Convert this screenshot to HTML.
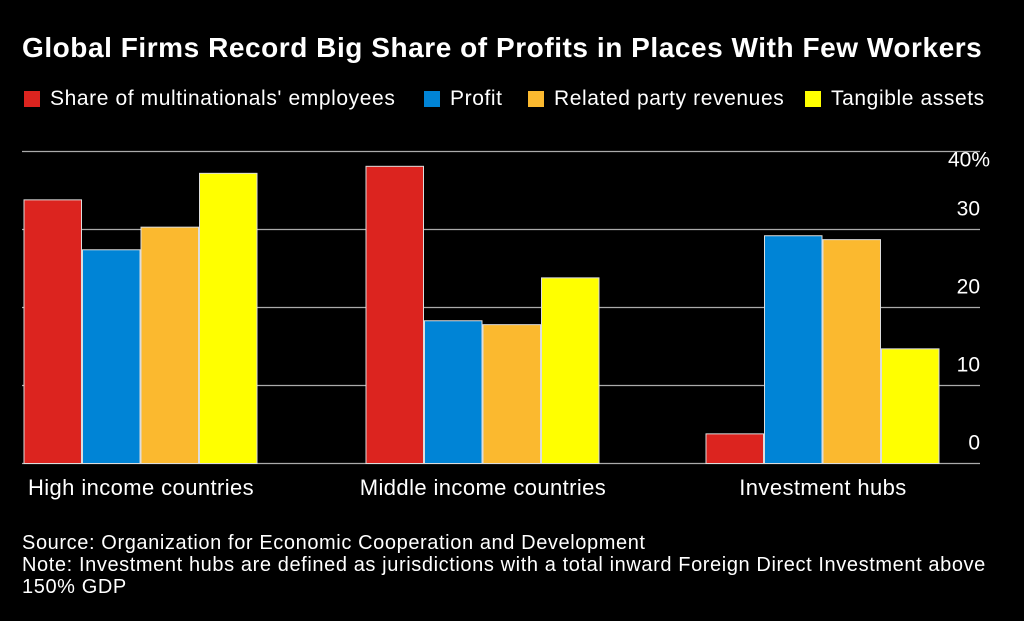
<!DOCTYPE html>
<html><head><meta charset="utf-8"><style>
html,body{margin:0;padding:0;background:#000;width:1024px;height:621px;overflow:hidden;font-family:"Liberation Sans",sans-serif;color:#fff}
#title{position:absolute;left:22px;top:32px;font-size:28px;font-weight:bold;letter-spacing:0.55px;white-space:nowrap}
.leg{position:absolute;top:87px;font-size:21px;letter-spacing:0.6px;display:flex;align-items:center;white-space:nowrap}
.sw{width:16px;height:16px;margin-right:10px;display:inline-block}
.note{position:absolute;left:22px;font-size:20px;letter-spacing:0.6px;line-height:22px;white-space:nowrap}
</style></head><body>
<div id="title">Global Firms Record Big Share of Profits in Places With Few Workers</div>
<div class="leg" style="left:24px"><span class="sw" style="background:#dc241f"></span>Share of multinationals' employees</div>
<div class="leg" style="left:424px"><span class="sw" style="background:#0084d6"></span>Profit</div>
<div class="leg" style="left:528px"><span class="sw" style="background:#fbb92f"></span>Related party revenues</div>
<div class="leg" style="left:805px"><span class="sw" style="background:#ffff00"></span>Tangible assets</div>
<svg id="chart" width="1024" height="621" style="position:absolute;left:0;top:0"></svg>
<div class="note" style="top:532px">Source: Organization for Economic Cooperation and Development</div>
<div class="note" style="top:554px">Note: Investment hubs are defined as jurisdictions with a total inward Foreign Direct Investment above<br>150% GDP</div>
<script>
const categories=["High income countries","Middle income countries","Investment hubs"];
const employees=[33.8,38.1,3.8];
const profit=[27.4,18.3,29.2];
const revenues=[30.3,17.8,28.7];
const assets=[37.2,23.8,14.7];
const ticks=[0,10,20,30,40];
const tickLabels=["0","10","20","30","40%"];
const series=[employees,profit,revenues,assets];
const colors=["#dc241f","#0084d6","#fbb92f","#ffff00"];
const NS="http://www.w3.org/2000/svg";
const svg=document.getElementById('chart');
const y0=463.5,pxPer=7.8;
const y=v=>y0-v*pxPer;
const groupX=[24,366,706],barW=58.5;
const x=(g,s)=>groupX[g]+s*barW;
function mk(t,a){const e=document.createElementNS(NS,t);for(const k in a)e.setAttribute(k,a[k]);svg.appendChild(e);return e;}
ticks.forEach((t,i)=>{
  const l=mk('line',{x1:22,x2:980,y1:y(t),y2:y(t),stroke:'#aaa','stroke-width':1.2});
  
  
  const isTop=i===ticks.length-1;
  const tx=mk('text',{x:isTop?990:980,y:isTop?y(t)+15:y(t)-14,'text-anchor':'end','font-size':21,fill:'#fff','font-family':'Liberation Sans, sans-serif'});
  tx.textContent=tickLabels[i];
  
  
});
series.forEach((s,si)=>s.forEach((v,g)=>{
  const r=mk('rect',{x:x(g,si),y:y(v),width:barW-1,height:y0-y(v),fill:colors[si],stroke:'#ddd','stroke-width':1});
  
  
}));
categories.forEach((c,g)=>{
  const t=mk('text',{x:x(g,2),y:495,'text-anchor':'middle','font-size':22,'letter-spacing':0.4,fill:'#fff','font-family':'Liberation Sans, sans-serif'});
  t.textContent=c;
  
  
});
</script>
</body></html>
